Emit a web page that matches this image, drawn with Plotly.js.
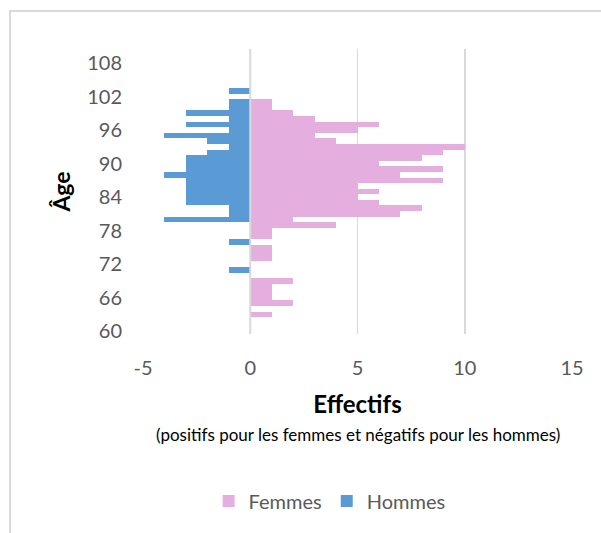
<!DOCTYPE html>
<html>
<head>
<meta charset="utf-8">
<script src="https://cdn.plot.ly/plotly-3.0.1.min.js"></script>
<style>
  html, body { margin: 0; padding: 0; background: #ffffff; }
  #wrap { position: relative; width: 601px; height: 533px; overflow: hidden; }
  #chart { width: 601px; height: 533px; }
  #frame { position: absolute; left: 9px; top: 10px; width: 700px; height: 700px;
           border-left: 2px solid #d9d9d9; border-top: 2px solid #d9d9d9; pointer-events: none; }
</style>
</head>
<body>
<div id="wrap"><div id="chart"></div><div id="frame"></div></div>
<script>
// Ages (categories), from 103 down to 63
const ages = [103,102,101,100,99,98,97,96,95,94,93,92,91,90,89,88,87,86,85,84,83,82,81,80,79,78,77,76,75,74,73,72,71,70,69,68,67,66,65,64,63];
// Women (positive)
const femmes = [0,0,1,1,2,3,6,5,3,4,10,9,8,6,9,7,9,5,6,5,6,8,7,2,4,1,1,0,1,1,1,0,0,0,2,1,1,1,2,0,1];
// Men (negative)
const hommes = [-1,0,-1,-1,-3,-1,-3,-1,-4,-2,-1,-2,-3,-3,-3,-4,-3,-3,-3,-3,-3,-1,-1,-4,0,0,0,-1,0,0,0,0,-1,0,0,0,0,0,0,0,0];
const yTicks = [60,66,72,78,84,90,96,102,108];
const xTicks = [-5,0,5,10,15];

const FONT = 'Lato, "Open Sans", sans-serif';

const traces = [
  { type: 'bar', orientation: 'h', name: 'Femmes', y: ages, x: femmes,
    marker: { color: '#E4AFDF', line: { width: 0 } }, hoverinfo: 'x+y' },
  { type: 'bar', orientation: 'h', name: 'Hommes', y: ages, x: hommes,
    marker: { color: '#5B9BD5', line: { width: 0 } }, hoverinfo: 'x+y' }
];

const layout = {
  width: 601, height: 533,
  margin: { l: 143, r: 29, t: 49, b: 199 },
  paper_bgcolor: 'rgba(0,0,0,0)', plot_bgcolor: '#ffffff',
  font: { family: FONT, color: '#595959', size: 20 },
  barmode: 'overlay', bargap: 0,
  showlegend: true,
  legend: { orientation: 'h', x: 0.435, xanchor: 'center', y: -0.586, yanchor: 'middle',
            font: { family: FONT, size: 20, color: '#595959' }, traceorder: 'normal' },
  xaxis: {
    range: [-5, 15], tickvals: xTicks, ticktext: xTicks.map(String),
    showgrid: true, gridcolor: '#d9d9d9', gridwidth: 1.5, zeroline: false,
    showline: false, ticks: '', ticklabelstandoff: 20, automargin: false,
    tickfont: { family: FONT, size: 20, color: '#595959' },
    title: { text: '<b>Effectifs</b>', font: { family: FONT, size: 24, color: '#000000' }, standoff: 18 }
  },
  yaxis: {
    range: [59.5, 110.5], tickvals: yTicks, ticktext: yTicks.map(String),
    showgrid: false, zeroline: false, showline: false, ticks: '', ticklabelstandoff: 20, automargin: false,
    tickfont: { family: FONT, size: 20, color: '#595959' },
    title: { text: '<b>Âge</b>', font: { family: FONT, size: 23, color: '#000000' }, standoff: 10 }
  },
  shapes: [
    { type: 'line', xref: 'x', yref: 'paper', x0: 0, x1: 0, y0: 0, y1: 1,
      line: { color: '#d9d9d9', width: 2 }, layer: 'above' }
  ],
  annotations: [
    { xref: 'paper', yref: 'paper', x: 0.5, y: -0.351, xanchor: 'center', yanchor: 'middle',
      showarrow: false, text: '(positifs pour les femmes et négatifs pour les hommes)',
      font: { family: FONT, size: 17, color: '#000000' } }
  ]
};

Plotly.newPlot('chart', traces, layout, { displayModeBar: false, staticPlot: true });
</script>
</body>
</html>
